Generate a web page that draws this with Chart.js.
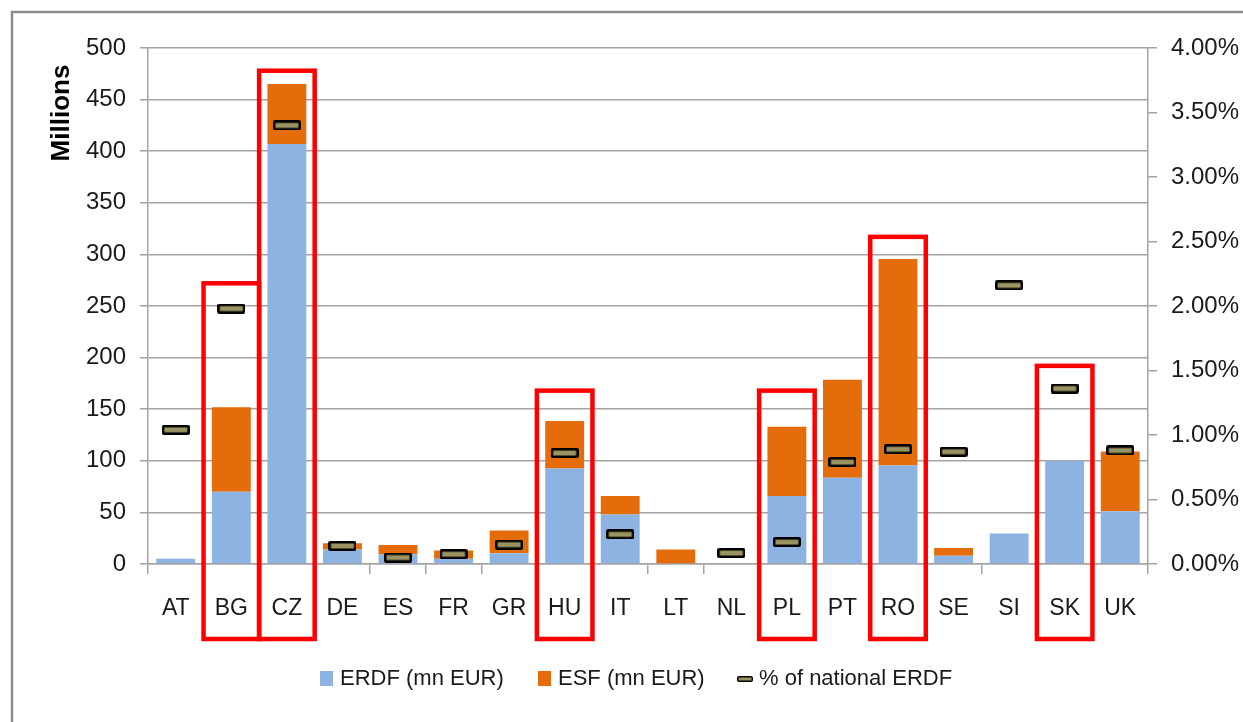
<!DOCTYPE html>
<html>
<head>
<meta charset="utf-8">
<title>ERDF / ESF by country</title>
<script src="https://cdn.jsdelivr.net/npm/chart.js@4"></script>
<style>
    html, body { margin: 0; padding: 0; background: #fff; }
    canvas { display: block; }
</style>
</head>
<body>
<canvas id="fundsChart" width="1243" height="722"></canvas>
<script>
// Data
const countries = ['AT', 'BG', 'CZ', 'DE', 'ES', 'FR', 'GR', 'HU', 'IT', 'LT', 'NL', 'PL', 'PT', 'RO', 'SE', 'SI', 'SK', 'UK'];
const erdfValues = [5, 70, 407, 14, 9.5, 5, 10.5, 92.5, 48, 0, 0, 66, 83.5, 95.5, 8, 29.5, 100, 51];   // mn EUR
const esfValues = [0, 82, 58, 6, 9, 8, 22, 46, 18, 14, 0, 67, 95, 200, 7.5, 0, 0, 58];                  // mn EUR
const nationalShare = [1.04, 1.98, 3.40, 0.14, 0.05, 0.076, 0.15, 0.86, 0.23, null, 0.085, 0.17, 0.79, 0.89, 0.87, 2.16, 1.36, 0.88]; // %

// Highlighted countries and the top of their red boxes (in mn EUR on the left axis)
const highlighted = ['BG', 'CZ', 'HU', 'PL', 'RO', 'SK'];
const highlightTops = [272, 478, 168, 168, 317, 192];

const FONT = 'Liberation Sans, Arial, sans-serif';
const TEXT = '#1a1a1a';
const GRID = '#a3a3a3';

function makeMarker(w, h, border) {
    const c = document.createElement('canvas');
    c.width = w;
    c.height = h;
    const g = c.getContext('2d');
    g.fillStyle = '#000';
    if (g.roundRect) {
        g.beginPath();
        g.roundRect(0, 0, w, h, 2);
        g.fill();
    } else {
        g.fillRect(0, 0, w, h);
    }
    g.fillStyle = '#9a9462';
    g.fillRect(border, border, w - 2 * border, h - 2 * border);
    return c;
}

const marker = makeMarker(28, 10, 2.5);
const legendMarker = makeMarker(16, 6, 1.5);

// grey frame round the chart (runs off the right and bottom edge)
const framePlugin = {
    id: 'frame',
    beforeDraw(chart) {
        const ctx = chart.ctx;
        ctx.save();
        ctx.fillStyle = '#fff';
        ctx.fillRect(0, 0, chart.width, chart.height);
        ctx.strokeStyle = '#8c8c8c';
        ctx.lineWidth = 2.5;
        ctx.strokeRect(12, 12, chart.width + 50, chart.height + 50);
        ctx.restore();
    }
};

// red boxes round the highlighted countries
const highlightPlugin = {
    id: 'highlight',
    afterDatasetsDraw(chart) {
        const ctx = chart.ctx;
        const x = chart.scales.x;
        const y = chart.scales.y;
        const half = (x.getPixelForValue(1) - x.getPixelForValue(0)) / 2;
        const bottom = chart.chartArea.bottom + 75;
        ctx.save();
        ctx.strokeStyle = '#ff0000';
        ctx.lineWidth = 4.5;
        highlighted.forEach((code, i) => {
            const cx = x.getPixelForValue(countries.indexOf(code));
            const top = y.getPixelForValue(highlightTops[i]);
            ctx.strokeRect(cx - half, top, half * 2, bottom - top);
        });
        ctx.restore();
    }
};

// axis title at the top of the left axis, plus the legend row
const labelsPlugin = {
    id: 'labels',
    afterDraw(chart) {
        const ctx = chart.ctx;
        ctx.save();
        ctx.translate(62, 113);
        ctx.rotate(-Math.PI / 2);
        ctx.font = 'bold 26px ' + FONT;
        ctx.fillStyle = '#000';
        ctx.textAlign = 'center';
        ctx.textBaseline = 'middle';
        ctx.fillText('Millions', 0, 0);
        ctx.restore();

        const ds = chart.data.datasets;
        const legendX = [320, 538, 737];
        const legendY = 679;
        ctx.save();
        ctx.font = '22px ' + FONT;
        ctx.fillStyle = TEXT;
        ctx.textBaseline = 'middle';
        ds.forEach((d, i) => {
            let tx;
            if (d.type === 'line') {
                ctx.drawImage(legendMarker, legendX[i], legendY - 3);
                tx = legendX[i] + 22;
            } else {
                ctx.fillStyle = d.backgroundColor;
                ctx.fillRect(legendX[i], legendY - 8, 13, 15);
                tx = legendX[i] + 20;
            }
            ctx.fillStyle = TEXT;
            ctx.fillText(d.label, tx, legendY);
        });
        ctx.restore();
    }
};

const ctx = document.getElementById('fundsChart').getContext('2d');

new Chart(ctx, {
    type: 'bar',
    data: {
        labels: countries,
        datasets: [
            {
                label: 'ERDF (mn EUR)',
                data: erdfValues,
                backgroundColor: '#8db3e2',
                stack: 'funds',
                order: 2,
                barPercentage: 0.7,
                categoryPercentage: 1
            },
            {
                label: 'ESF (mn EUR)',
                data: esfValues,
                backgroundColor: '#e46c0a',
                stack: 'funds',
                order: 2,
                barPercentage: 0.7,
                categoryPercentage: 1
            },
            {
                type: 'line',
                label: '% of national ERDF',
                data: nationalShare,
                yAxisID: 'y1',
                showLine: false,
                pointStyle: marker,
                pointRadius: 6,
                order: 1
            }
        ]
    },
    options: {
        responsive: false,
        animation: false,
        layout: { padding: { top: 48, left: 0, right: 0, bottom: 0 } },
        plugins: {
            legend: { display: false },
            tooltip: { enabled: false }
        },
        scales: {
            x: {
                stacked: true,
                grid: { offset: true, drawOnChartArea: false, color: GRID, lineWidth: 1.5, tickLength: 10 },
                border: { color: GRID, width: 1.5 },
                ticks: { font: { family: FONT, size: 23 }, color: TEXT, padding: 21 },
                afterFit(scale) { scale.height = 158; }
            },
            y: {
                stacked: true,
                min: 0,
                max: 500,
                ticks: { stepSize: 50, font: { family: FONT, size: 24 }, color: TEXT, padding: 14 },
                grid: { color: GRID, lineWidth: 1.5, tickLength: 8 },
                border: { color: GRID, width: 1.5 },
                afterFit(scale) { scale.width = 148; }
            },
            y1: {
                position: 'right',
                min: 0,
                max: 4,
                ticks: {
                    stepSize: 0.5,
                    font: { family: FONT, size: 24 },
                    color: TEXT,
                    padding: 14,
                    callback: v => v.toFixed(2) + '%'
                },
                grid: { drawOnChartArea: false, color: GRID, lineWidth: 1.5, tickLength: 9 },
                border: { color: GRID, width: 1.5 },
                afterFit(scale) { scale.width = 95; }
            }
        }
    },
    plugins: [framePlugin, highlightPlugin, labelsPlugin]
});
</script>
</body>
</html>
